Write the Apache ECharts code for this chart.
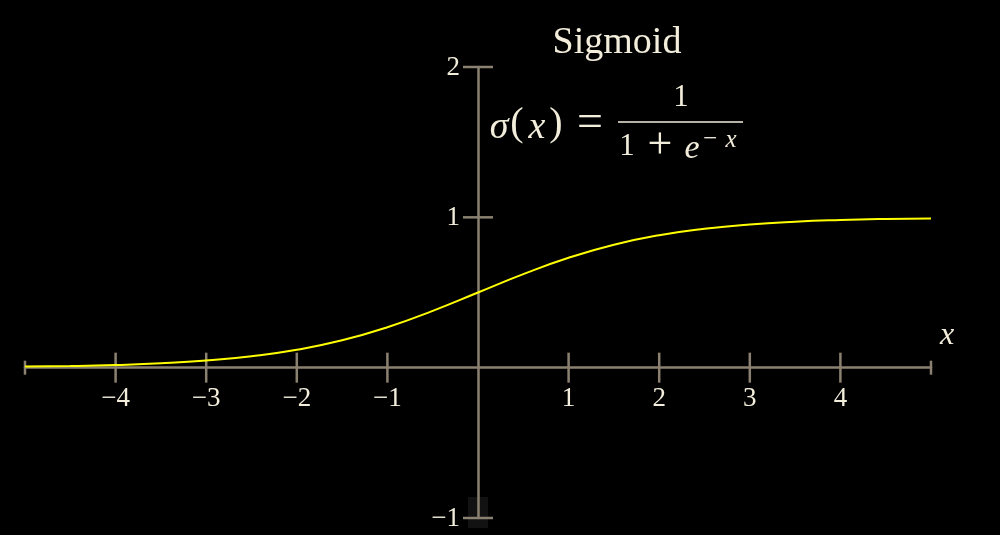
<!DOCTYPE html>
<html>
<head>
<meta charset="utf-8">
<script src="https://cdn.jsdelivr.net/npm/echarts@6/dist/echarts.min.js"></script>
<style>
html,body{margin:0;padding:0;background:#000;}
#chart{width:1000px;height:535px;}
</style>
</head>
<body>
<div id="chart"></div>
<script>
// Data
var sigX = [-5, -4.5, -4, -3.5, -3, -2.5, -2, -1.5, -1, -0.5, 0, 0.5, 1, 1.5, 2, 2.5, 3, 3.5, 4, 4.5, 5];
var sigY = [0.007, 0.011, 0.018, 0.029, 0.047, 0.076, 0.119, 0.182, 0.269, 0.378, 0.5, 0.622, 0.731, 0.818, 0.881, 0.924, 0.953, 0.971, 0.982, 0.989, 0.993];
var xTickValues = [-4, -3, -2, -1, 1, 2, 3, 4];
var xTickLabels = ['\u22124', '\u22123', '\u22122', '\u22121', '1', '2', '3', '4'];
var xEndValues = [-5, 5];
var yTickValues = [-1, 1, 2];
var yTickLabels = ['\u22121', '1', '2'];
var titleText = 'Sigmoid';
var xAxisName = 'x';

var AXIS = '#8b8170';
var TEXT = '#f3eedc';
var FONT = '"Liberation Serif", "DejaVu Serif", serif';

var chart = echarts.init(document.getElementById('chart'));

var tickData = [];
xTickValues.forEach(function (v, i) { tickData.push([v, 0, 'x', 15, xTickLabels[i]]); });
xEndValues.forEach(function (v) { tickData.push([v, 0, 'x', 7, '']); });
yTickValues.forEach(function (v, i) { tickData.push([0, v, 'y', 15, yTickLabels[i]]); });

function glyph(t, x, y, size, italic) {
  return { type: 'text', z: 10, style: { text: t, x: x, y: y, align: 'center', verticalAlign: 'middle', fill: TEXT,
    font: (italic ? 'italic ' : '') + size + 'px ' + FONT } };
}

var option = {
  backgroundColor: '#000',
  animation: false,
  grid: { left: 25, right: 69, top: 67, bottom: 17, containLabel: false, outerBoundsMode: 'none' },
  xAxis: {
    type: 'value', min: -5, max: 5, interval: 1,
    axisLine: { onZero: true, lineStyle: { color: AXIS, width: 2.5 } },
    axisTick: { show: false },
    splitLine: { show: false },
    axisLabel: { show: false }
  },
  yAxis: {
    type: 'value', min: -1, max: 2, interval: 1,
    axisLine: { onZero: true, lineStyle: { color: AXIS, width: 2.5 } },
    axisTick: { show: false },
    splitLine: { show: false },
    axisLabel: { show: false }
  },
  graphic: [
    { type: 'rect', z: -10, shape: { x: 468, y: 497, width: 20, height: 31 }, style: { fill: '#121212' } },
    glyph(titleText, 617, 43, 38, false),
    glyph('\u03c3', 499, 128, 38, true),
    glyph('(', 517, 124, 40, false),
    glyph('x', 537, 128, 38, true),
    glyph(')', 556, 124, 40, false),
    glyph('=', 590, 124, 46, false),
    glyph('1', 681, 98, 31, false),
    { type: 'line', z: 10, shape: { x1: 618, y1: 122, x2: 743, y2: 122 }, style: { stroke: TEXT, lineWidth: 1.6 } },
    glyph('1', 627, 147, 31, false),
    glyph('+', 660, 146, 44, false),
    glyph('e', 692, 149, 34, true),
    glyph('\u2212', 710, 139, 25, false),
    glyph('x', 731, 140, 25, true),
    glyph(xAxisName, 947, 336, 32, true)
  ],
  series: [
    {
      type: 'custom',
      coordinateSystem: 'cartesian2d',
      z: 3,
      silent: true,
      data: tickData,
      renderItem: function (params, api) {
        var p = api.coord([api.value(0), api.value(1)]);
        var d = tickData[params.dataIndex];
        var kind = d[2];
        var len = d[3];
        var label = d[4];
        var shape, txt;
        if (kind === 'x') {
          shape = { x1: p[0], y1: p[1] - len, x2: p[0], y2: p[1] + len };
          txt = { x: p[0], y: p[1] + 31, align: 'center' };
        } else {
          shape = { x1: p[0] - len, y1: p[1], x2: p[0] + len, y2: p[1] };
          txt = { x: p[0] - 18, y: p[1] + 1, align: 'right' };
        }
        return {
          type: 'group',
          children: [
            { type: 'line', shape: shape, style: { stroke: AXIS, lineWidth: 2.5 } },
            { type: 'text', style: { text: label, x: txt.x, y: txt.y, align: txt.align, verticalAlign: 'middle',
              fill: TEXT, font: '27px ' + FONT } }
          ]
        };
      }
    },
    {
      type: 'line',
      z: 4,
      data: sigX.map(function (x, i) { return [x, sigY[i]]; }),
      smooth: true,
      showSymbol: false,
      lineStyle: { color: '#ffff00', width: 2 }
    }
  ]
};
chart.setOption(option);
</script>
</body>
</html>
